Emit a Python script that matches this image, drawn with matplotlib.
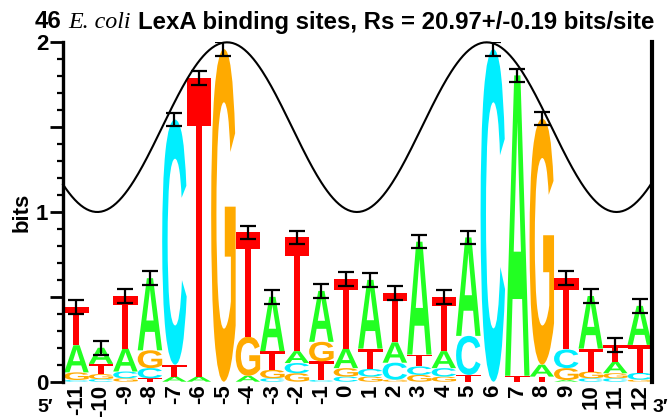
import numpy as np
import matplotlib
matplotlib.use('Agg')
import matplotlib.pyplot as plt
import matplotlib.transforms as mtransforms
from matplotlib.textpath import TextPath
from matplotlib.patches import PathPatch
from matplotlib.font_manager import FontProperties

plt.rcParams['font.family'] = ['Liberation Sans', 'DejaVu Sans']

positions = list(range(-11, 13))
height_A = [0.16, 0.095, 0.135, 0.425, 0.03, 0.03, 0.0, 0.035, 0.32, 0.07, 0.30, 0.115,
            0.405, 0.12, 0.665, 0.10, 0.58, 0.0, 1.77, 0.07, 0.01, 0.31, 0.067, 0.23]
height_C = [0.01, 0.015, 0.04, 0.06, 1.445, 0.0, 0.0, 0.0, 0.02, 0.06, 0.01, 0.03,
            0.045, 0.10, 0.05, 0.05, 0.23, 1.96, 0.0, 0.0, 0.11, 0.02, 0.02, 0.04]
height_G = [0.045, 0.03, 0.02, 0.105, 0.0, 0.0, 1.96, 0.23, 0.05, 0.05, 0.115, 0.05,
            0.03, 0.012, 0.04, 0.03, 0.0, 0.0, 0.0, 1.45, 0.07, 0.04, 0.03, 0.012]
height_T = [0.225, 0.06, 0.31, 0.02, 0.07, 1.76, 0.0, 0.615, 0.11, 0.67, 0.11, 0.41,
            0.12, 0.29, 0.07, 0.32, 0.04, 0.0, 0.035, 0.03, 0.42, 0.135, 0.10, 0.165]
errors = [0.04, 0.042, 0.04, 0.04, 0.04, 0.04, 0.04, 0.04, 0.04, 0.04, 0.04, 0.04,
          0.04, 0.04, 0.04, 0.04, 0.04, 0.04, 0.04, 0.04, 0.04, 0.04, 0.042, 0.04]
tick_labels = [str(p) for p in positions]

# helical wave (10.6 bp period)
wave_peak = -4.85
wave_period = 10.6

colors = {'A': '#22ff22', 'C': '#00eeff', 'G': '#ffaa00', 'T': '#ff0000'}

fig = plt.figure(figsize=(6.69, 4.17), dpi=100)
ax = fig.add_axes([63 / 669, 35.3 / 417, 589 / 669, 339.4 / 417])
ax.set_xlim(-11.55, 12.5)
ax.set_ylim(0, 2)

fp = FontProperties(family='Liberation Sans', weight='bold')
glyphs = {ch: TextPath((0, 0), ch, size=1, prop=fp) for ch in 'ACGT'}


def draw_letter(ch, x, y0, h, w=1.0):
    path = glyphs[ch]
    bb = path.get_extents()
    tr = (mtransforms.Affine2D().translate(-bb.x0, -bb.y0)
          .scale(w / bb.width, h / bb.height).translate(x - w / 2, y0))
    ax.add_patch(PathPatch(tr.transform_path(path), fc=colors[ch], ec='none', lw=0, zorder=2))


totals = []
for i, p in enumerate(positions):
    stack = [('A', height_A[i]), ('C', height_C[i]), ('G', height_G[i]), ('T', height_T[i])]
    stack.sort(key=lambda s: s[1])
    y = 0.0
    for ch, h in stack:
        if h > 0:
            draw_letter(ch, p, y, h)
            y += h
    totals.append(y)

ax.errorbar(positions, totals, yerr=errors, fmt='none', ecolor='black',
            elinewidth=1.6, capsize=5.5, capthick=1.6, zorder=4)

xs = np.linspace(-11.55, 12.5, 400)
ax.plot(xs, 1.5 + 0.5 * np.cos(2 * np.pi * (xs - wave_peak) / wave_period),
        color='black', lw=1.5, zorder=3, clip_on=False)

# axes styling
for s in ['top', 'bottom']:
    ax.spines[s].set_visible(False)
ax.spines['left'].set_linewidth(2.4)
ax.spines['left'].set_bounds(0, 2)
ax.spines['right'].set_linewidth(3)
ax.spines['right'].set_bounds(0, 2)

ax.set_yticks([0, 0.5, 1, 1.5, 2])
ax.set_yticklabels(['0', '', '1', '', '2'], fontsize=16, fontweight='bold')
ax.set_yticks(np.arange(0, 2.01, 0.1), minor=True)
ax.tick_params(axis='y', which='major', length=9.5, width=2, pad=1)
ax.tick_params(axis='y', which='minor', length=4.5, width=1.6)
ax.tick_params(axis='y', right=False)

ax.set_xticks(positions)
ax.set_xticklabels(tick_labels, rotation=90, fontsize=16, fontweight='bold', va='top')
ax.tick_params(axis='x', length=0, pad=2)

ax.set_ylabel('bits', fontsize=16, fontweight='bold')
ax.yaxis.set_label_coords(-0.052, 0.5)

fig.text(37 / 669, 1 / 417, '5\u2032', fontsize=14, fontweight='bold', va='bottom', ha='left')
fig.text(668 / 669, 1 / 417, '3\u2032', fontsize=14, fontweight='bold', va='bottom', ha='right')

# title with italic species name
fig.canvas.draw()
renderer = fig.canvas.get_renderer()
tsize = 17.3
bold = FontProperties(family='Liberation Sans', weight='bold', size=tsize)
ital = FontProperties(family='Liberation Serif', style='italic', size=tsize)


def text_width(s, prop):
    t = fig.text(0, 0, s, fontproperties=prop)
    w = t.get_window_extent(renderer).width
    t.remove()
    return w


space = text_width('a a', bold) - text_width('aa', bold)
parts = [('46', bold), ('E. coli', ital), ('LexA binding sites, Rs = 20.97+/-0.19 bits/site', bold)]
x = 35.0
ybase = 1 - 28.5 / 417
for s, prop in parts:
    fig.text(x / 669, ybase, s, fontproperties=prop, va='baseline', ha='left')
    x += text_width(s, prop) + space

fig.savefig('out.png', dpi=100)
